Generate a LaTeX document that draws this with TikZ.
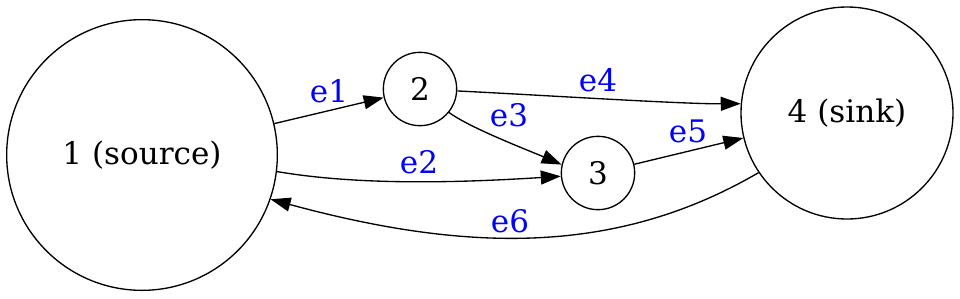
\documentclass[tikz,border=0pt]{standalone}
\usepackage{fontspec}
\setmainfont{DejaVu Serif}
\usetikzlibrary{arrows.meta}
\begin{document}
\begin{tikzpicture}[x=0.75pt,y=0.75pt,
  vert/.style={draw, circle, inner sep=0pt, line width=1pt, font=\fontsize{23.3}{28}\selectfont},
  edge/.style={line width=1pt, -{Triangle[length=15pt,width=10.5pt]}},
  lbl/.style={text=blue, font=\fontsize{23.3}{28}\selectfont, inner sep=0pt}]
\useasboundingbox (0,0) rectangle (960,298);
\node[vert, minimum size=203pt] (n1) at (142,143) {1 (source)};
\node[vert, minimum size=55pt] (n2) at (420,209) {2};
\node[vert, minimum size=55pt] (n3) at (598,125) {3};
\node[vert, minimum size=159pt] (n4) at (847,185) {4 (sink)};
\draw[edge] (n1) -- (n2);
\draw[edge] (n1.-7) .. controls (350,114) and (440,114) .. (n3.185);
\draw[edge] (n2.-39) .. controls (470,170) and (530,147) .. (n3.167);
\draw[edge] (n2.-3) .. controls (540,203) and (680,194) .. (n4.175);
\draw[edge] (n3) -- (n4);
\draw[edge] (n4.214) .. controls (619,44) and (472,44) .. (n1.-19.5);
\node[lbl] (l1) at (329,207) {e1};
\node[lbl] (l2) at (419,136) {e2};
\node[lbl] (l3) at (509,183) {e3};
\node[lbl] (l4) at (598,218) {e4};
\node[lbl] (l5) at (688,167) {e5};
\node[lbl] (l6) at (510,77) {e6};
\end{tikzpicture}
\end{document}
